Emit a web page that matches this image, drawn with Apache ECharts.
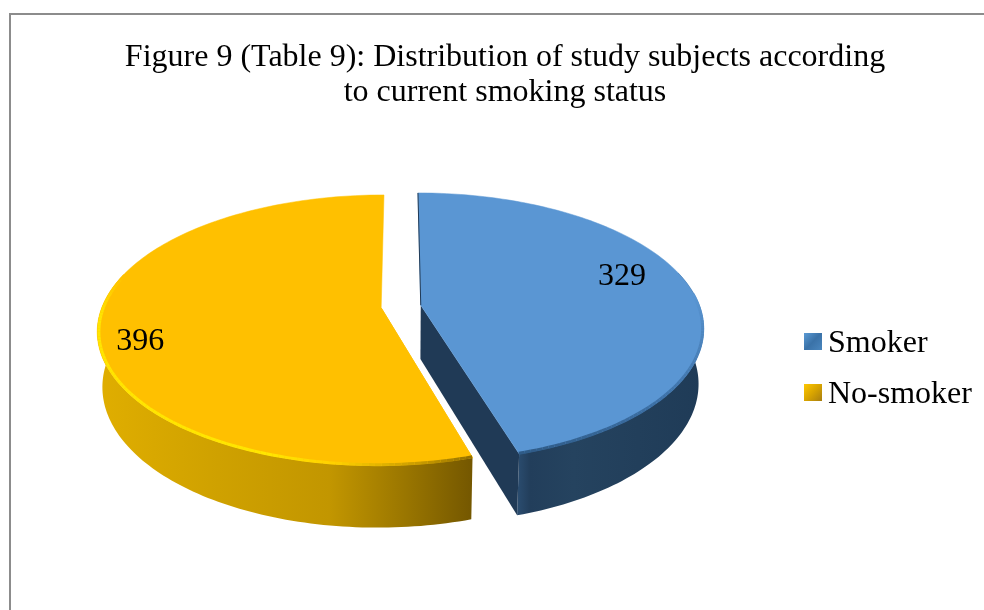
<!DOCTYPE html>
<html>
<head>
<meta charset="utf-8">
<style>html,body{margin:0;padding:0;background:#fff}#main{width:984px;height:610px}</style>
<script src="https://cdn.jsdelivr.net/npm/echarts@6/dist/echarts.min.js"></script>
</head>
<body>
<div id="main"></div>
<script>
// Subject counts by current smoking status
const categories = ['Smoker', 'No-smoker'];
const counts = [329, 396];
const titleLines = [
  'Figure 9 (Table 9): Distribution of study subjects according',
  'to current smoking status'
];

const FONT = '"Liberation Serif", "Times New Roman", serif';
const G = echarts.graphic;
const total = counts.reduce((a, b) => a + b, 0);
const RAD = Math.PI / 180;

// Tilted disc projection
const disc = { x: 401, y: 306.5, r: 279, squash: 0.47, persp: 0.165, depth: 54, floor: 0.983, explode: 20 };

function project(u, v, scale, drop) {
  const w = 1 - disc.persp * v / disc.r;
  return [disc.x + u * scale / w, disc.y + disc.squash * v * scale / w + drop / w];
}
function planePoint(ex, ey, angle, radius) {
  return [ex + radius * Math.sin(angle), ey - radius * Math.cos(angle)];
}
function arc(ex, ey, a0, a1, scale, drop) {
  const pts = [];
  const n = Math.max(2, Math.ceil(Math.abs(a1 - a0) / 0.02));
  for (let i = 0; i <= n; i++) {
    const p = planePoint(ex, ey, a0 + (a1 - a0) * i / n, disc.r);
    pts.push(project(p[0], p[1], scale, drop));
  }
  return pts;
}
const hGrad = (stops) => new G.LinearGradient(0, 0, 1, 0, stops.map((c) => ({ offset: c[0], color: c[1] })));

function rampColor(stops, t) {
  for (let i = 1; i < stops.length; i++) {
    if (t <= stops[i][0]) {
      const f = (t - stops[i - 1][0]) / (stops[i][0] - stops[i - 1][0]);
      return echarts.color.lerp(f, [stops[i - 1][1], stops[i][1]]);
    }
  }
  return stops[stops.length - 1][1];
}

const looks = [
  {
    top: '#5A96D3',
    wall: [[0, '#2B4D70'], [0.07, '#223E5B'], [0.3, '#25435F'], [1, '#1F3B57']],
    cut: '#203A56',
    sliver: '#203A56',
    rim: [[0, '#2E5A86'], [0.45, '#3E72A8'], [0.8, '#4F87C0'], [1, '#5A96D3']],
    wallFrom: 75, wallTo: null, rimEnd: 85, rimInset: 1,
    labelAt: [73.3, 0.785]
  },
  {
    top: '#FFC000',
    wall: [[0, '#E0AE00'], [0.3, '#D0A200'], [0.62, '#C29600'], [0.82, '#9A7600'], [1, '#745700']],
    cut: null,
    sliver: '#FFC000',
    rim: [[0, '#8F6D00'], [0.08, '#C89A00'], [0.2, '#FFD000'], [0.3, '#FFE600'], [0.85, '#FFE600'], [1, '#FFC000']],
    wallFrom: null, wallTo: 285, rimEnd: 285, rimInset: 1.5,
    labelAt: [253.6, 0.86]
  }
];

// Each slice is its own series so the legend lists it by name
function sliceRenderer(index) {
  return function (params, api) {
    const value = api.value(0);
    const before = counts.slice(0, index).reduce((a, b) => a + b, 0);
    const a0 = before / total * 2 * Math.PI;
    const a1 = a0 + value / total * 2 * Math.PI;
    const mid = (a0 + a1) / 2;
    const ex = disc.explode * Math.sin(mid);
    const ey = -disc.explode * Math.cos(mid);
    const look = looks[index];

    const topApex = project(ex, ey, 1, 0);
    const floorApex = project(ex, ey, disc.floor, disc.depth);
    const topArc = arc(ex, ey, a0, a1, 1, 0);
    const endTop = topArc[topArc.length - 1];
    const endFloor = arc(ex, ey, a1, a1, disc.floor, disc.depth)[0];

    // Outer wall: only the part of the rim that faces the viewer
    const wallA0 = look.wallFrom === null ? a0 : look.wallFrom * RAD;
    const wallA1 = look.wallTo === null ? a1 : look.wallTo * RAD;
    const wallTop = arc(ex, ey, wallA0, wallA1, 1, 0);
    const wallFloor = arc(ex, ey, wallA0, wallA1, disc.floor, disc.depth);

    const children = [];
    children.push({
      type: 'polygon',
      shape: { points: wallTop.concat(wallFloor.slice().reverse()) },
      style: { fill: hGrad(look.wall) }
    });
    if (look.cut) {
      children.push({
        type: 'polygon',
        shape: { points: [topApex, endTop, endFloor, floorApex] },
        style: { fill: look.cut }
      });
    }
    children.push({
      type: 'polygon',
      shape: { points: [topApex].concat(topArc) },
      style: { fill: look.top, stroke: look.top, lineWidth: 0.5 }
    });
    children.push({
      type: 'polyline',
      shape: { points: [topArc[0], topApex] },
      style: { stroke: look.sliver, lineWidth: 1, fill: 'none' }
    });

    // Soft bevel along the front rim of the top face, shaded segment by segment
    const rimScale = 1 - look.rimInset / disc.r;
    const rimStart = index === 0 ? a1 : a0;
    const rimPts = arc(ex, ey, rimStart, look.rimEnd * RAD, rimScale, 0);
    for (let i = 1; i < rimPts.length; i++) {
      children.push({
        type: 'line',
        shape: { x1: rimPts[i - 1][0], y1: rimPts[i - 1][1], x2: rimPts[i][0], y2: rimPts[i][1] },
        style: { stroke: rampColor(look.rim, i / (rimPts.length - 1)), lineWidth: 3 }
      });
    }

    const lp = planePoint(ex, ey, look.labelAt[0] * RAD, disc.r * look.labelAt[1]);
    const pos = project(lp[0], lp[1], 1, 0);
    children.push({
      type: 'text',
      style: {
        text: String(value), x: pos[0], y: pos[1],
        align: 'center', verticalAlign: 'middle',
        font: '32px ' + FONT, fill: '#000'
      }
    });
    return { type: 'group', children: children };
  };
}

const legendFills = [
  new G.LinearGradient(0, 0, 1, 1, [
    { offset: 0, color: '#5B9BD5' }, { offset: 0.5, color: '#3A72A8' }, { offset: 1, color: '#4A86BE' }
  ]),
  new G.LinearGradient(0, 0, 1, 1, [
    { offset: 0, color: '#FFC800' }, { offset: 0.5, color: '#D8A400' }, { offset: 1, color: '#A87E10' }
  ])
];

const chart = echarts.init(document.getElementById('main'), null, { renderer: 'canvas' });
chart.setOption({
  animation: false,
  backgroundColor: '#fff',
  title: {
    text: titleLines.join('\n'),
    left: 500,
    top: 35,
    textAlign: 'center',
    textStyle: { fontFamily: FONT, fontSize: 32, fontWeight: 'normal', color: '#000', lineHeight: 35 }
  },
  legend: {
    left: 799,
    top: 323,
    orient: 'vertical',
    itemWidth: 18,
    itemHeight: 17,
    itemGap: 19,
    icon: 'rect',
    selectedMode: false,
    formatter: '{t|{name}}',
    textStyle: {
      rich: { t: { fontFamily: FONT, fontSize: 32, color: '#000', padding: [5, 0, 0, 1] } }
    },
    data: categories.map((name, i) => ({ name: name, itemStyle: { color: legendFills[i] } }))
  },
  graphic: [
    { type: 'rect', shape: { x: 9, y: 13, width: 2, height: 597 }, style: { fill: '#8C8C8C' } },
    { type: 'rect', shape: { x: 9, y: 13, width: 975, height: 2 }, style: { fill: '#8C8C8C' } }
  ],
  series: categories.map((name, i) => ({
    type: 'custom',
    name: name,
    coordinateSystem: 'none',
    silent: true,
    itemStyle: { color: looks[i].top },
    encode: { value: 0 },
    data: [[counts[i]]],
    renderItem: sliceRenderer(i)
  }))
});
</script>
</body>
</html>
